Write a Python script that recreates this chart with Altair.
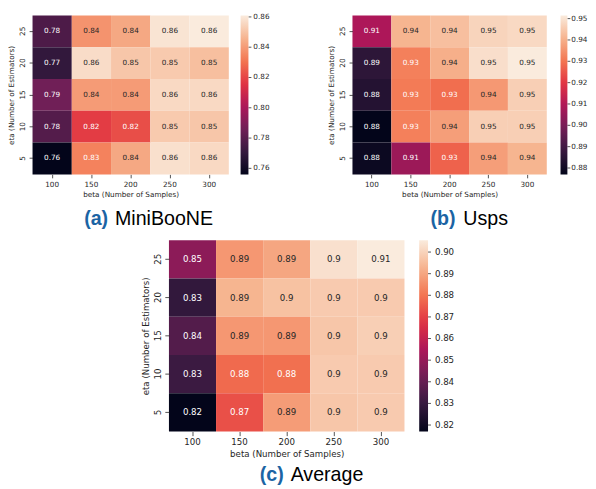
import altair as alt
import pandas as pd

betas = ["100", "150", "200", "250", "300"]
etas = ["25", "20", "15", "10", "5"]  # top to bottom

minibooone = [
    [0.777, 0.838, 0.843, 0.859, 0.861],
    [0.770, 0.857, 0.851, 0.852, 0.849],
    [0.786, 0.840, 0.840, 0.856, 0.856],
    [0.779, 0.818, 0.822, 0.852, 0.851],
    [0.756, 0.834, 0.843, 0.858, 0.856],
]
usps = [
    [0.909, 0.941, 0.943, 0.947, 0.948],
    [0.886, 0.932, 0.940, 0.949, 0.9515],
    [0.884, 0.931, 0.929, 0.936, 0.946],
    [0.877, 0.932, 0.937, 0.946, 0.946],
    [0.879, 0.906, 0.927, 0.937, 0.941],
]
average = [
    [0.848, 0.887, 0.890, 0.903, 0.9055],
    [0.829, 0.893, 0.896, 0.898, 0.898],
    [0.836, 0.887, 0.887, 0.897, 0.899],
    [0.831, 0.878, 0.879, 0.898, 0.898],
    [0.817, 0.873, 0.888, 0.897, 0.898],
]

ticks_a = [0.76, 0.78, 0.80, 0.82, 0.84, 0.86]
ticks_b = [0.88, 0.89, 0.90, 0.91, 0.92, 0.93, 0.94, 0.95]
ticks_c = [0.82, 0.83, 0.84, 0.85, 0.86, 0.87, 0.88, 0.89, 0.90]

ROCKET = ["#03051a", "#35193e", "#701f57", "#ad1759",
          "#e13342", "#f37651", "#f6b48f", "#faebdd"]
BLUE = "#1b64a4"
INK = "#262626"
FONT = "DejaVu Sans"


def hex_rgb(h):
    return [int(h[i:i + 2], 16) / 255 for i in (1, 3, 5)]


def lum(t):
    n = len(ROCKET) - 1
    k = min(int(t * n), n - 1)
    f = t * n - k
    a, b = hex_rgb(ROCKET[k]), hex_rgb(ROCKET[k + 1])
    c = [a[i] + (b[i] - a[i]) * f for i in range(3)]
    lin = [x / 12.92 if x <= 0.03928 else ((x + 0.055) / 1.055) ** 2.4 for x in c]
    return 0.2126 * lin[0] + 0.7152 * lin[1] + 0.0722 * lin[2]


def panel(vals, w, h, fs, ticks, tag, name, tag_x, name_x, base_y,
          tick_size, leg_off, leg_thick, lab_off):
    rows = []
    for i, e in enumerate(etas):
        for j, b in enumerate(betas):
            rows.append({"beta": b, "eta": e, "v": vals[i][j]})
    df = pd.DataFrame(rows)
    vmin, vmax = df.v.min(), df.v.max()
    n = len(ROCKET) - 1
    dom = [vmin + k * (vmax - vmin) / n for k in range(n + 1)]
    df["tc"] = ["dark" if lum((v - vmin) / (vmax - vmin)) > 0.408 else "light" for v in df.v]

    axis_common = dict(domain=False, tickSize=tick_size, tickWidth=0.8, tickColor=INK,
                       labelFont=FONT, labelFontSize=fs, labelColor=INK,
                       titleFont=FONT, titleFontSize=fs, titleFontWeight="normal",
                       titleColor=INK, labelPadding=2.5, titlePadding=3, grid=False)
    base = alt.Chart(df).encode(
        x=alt.X("beta:O", sort=betas,
                axis=alt.Axis(title="beta (Number of Samples)", labelAngle=0, **axis_common)),
        y=alt.Y("eta:O", sort=etas,
                axis=alt.Axis(title="eta (Number of Estimators)", labelAngle=270, **axis_common)),
    )
    rect = base.mark_rect().encode(
        color=alt.Color("v:Q",
                        scale=alt.Scale(domain=dom, range=ROCKET, interpolate="rgb"),
                        legend=alt.Legend(title=None, values=ticks, format=".2f",
                                          orient="none", legendX=w + leg_off, legendY=0,
                                          direction="vertical",
                                          gradientLength=h, gradientThickness=leg_thick,
                                          gradientStrokeWidth=0,
                                          labelFont=FONT, labelFontSize=fs, labelColor=INK,
                                          labelOffset=lab_off, padding=0))
    )
    text = base.mark_text(font=FONT, fontSize=fs).encode(
        text=alt.Text("v:Q", format=".2~g"),
        color=alt.condition(alt.datum.tc == "dark", alt.value(INK), alt.value("#ffffff")),
    )
    heat = alt.layer(rect, text)

    # colourbar tick marks, placed on a value scale matching the gradient
    cb_x = w + leg_off + leg_thick
    cb_ticks = alt.Chart(pd.DataFrame({"t": ticks})).mark_rule(
        color=INK, strokeWidth=0.8).encode(
        y=alt.Y("t:Q", scale=alt.Scale(domain=[vmin, vmax], nice=False, zero=False), axis=None),
        x=alt.value(cb_x), x2=alt.value(cb_x + 3))

    t1 = alt.Chart(pd.DataFrame({"s": [tag]})).mark_text(
        align="right", baseline="alphabetic", font="Liberation Sans", fontSize=20,
        fontWeight="bold", color=BLUE).encode(text="s:N", x=alt.value(tag_x), y=alt.value(base_y))
    t2 = alt.Chart(pd.DataFrame({"s": [name]})).mark_text(
        align="left", baseline="alphabetic", font="Liberation Sans", fontSize=20,
        color="#000000").encode(text="s:N", x=alt.value(name_x), y=alt.value(base_y))
    return alt.layer(heat, cb_ticks, t1, t2).resolve_scale(y="independent").properties(
        width=w, height=h)


pa = panel(minibooone, 200, 162, 7.4, ticks_a, "(a)", "MiniBooNE", 77, 84, 214, 3.5, 12, 8, 5)
pb = panel(usps, 198, 162, 7.4, ticks_b, "(b)", "Usps", 105, 113, 214, 3.5, 14, 7, 4)
pc = panel(average, 240, 195, 8.8, ticks_c, "(c)", "Average", 117, 124, 245, 4.2, 15, 9, 7)

spacer = alt.Chart(pd.DataFrame({"a": [0]})).mark_point(opacity=0).encode(
    x=alt.value(0), y=alt.value(0)).properties(width=111, height=10)

top = alt.hconcat(pa, pb, spacing=59).resolve_scale(color="independent")
bottom = alt.hconcat(spacer, pc, spacing=0).resolve_scale(color="independent")

chart = alt.vconcat(top, bottom, spacing=8).resolve_scale(color="independent").properties(
    padding={"left": 0, "top": 3, "right": 0, "bottom": 0}
).configure_view(stroke=None)

chart.save("out.html", embed_options={"renderer": "svg", "actions": False})
